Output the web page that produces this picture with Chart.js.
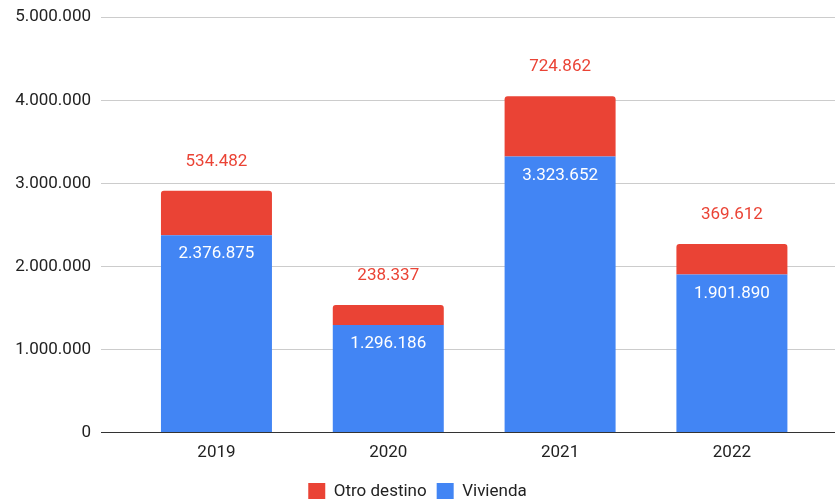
<!DOCTYPE html>
<html>
<head>
<meta charset="utf-8">
<script src="https://cdn.jsdelivr.net/npm/chart.js@4.4.0/dist/chart.umd.min.js"></script>
<style>
  html, body { margin: 0; padding: 0; background: #fff; overflow: hidden; }
  #wrap { width: 835px; height: 506px; margin-top: -3px; }
</style>
</head>
<body>
<div id="wrap"><canvas id="grafico"></canvas></div>
<script>
// datos
const anios = ['2019', '2020', '2021', '2022']
const vivienda = [2376875, 1296186, 3323652, 1901890]
const otroDestino = [534482, 238337, 724862, 369612]
const ticksY = [0, 1000000, 2000000, 3000000, 4000000, 5000000]

const rojo = '#ea4335'
const azul = '#4285f4'

function puntos(n) {
  return String(n).replace(/\B(?=(\d{3})+(?!\d))/g, '.')
}

// etiquetas encima / dentro de las barras
const etiquetas = {
  id: 'etiquetas',
  afterDatasetsDraw(chart) {
    const ctx = chart.ctx
    ctx.save()
    ctx.font = '17px Roboto'
    ctx.textAlign = 'center'
    ctx.textBaseline = 'middle'
    chart.data.datasets.forEach((ds, di) => {
      const meta = chart.getDatasetMeta(di)
      meta.data.forEach((bar, i) => {
        const v = ds.data[i].y
        if (di === 0) {
          ctx.fillStyle = '#ffffff'
          ctx.fillText(puntos(v), bar.x, bar.y + 19)
        } else {
          ctx.fillStyle = rojo
          ctx.fillText(puntos(v), bar.x, bar.y - 29)
        }
      })
    })
    ctx.restore()
  }
}

new Chart(document.querySelector('#grafico'), {
  type: 'bar',
  data: {
    datasets: [{
      label: 'Vivienda',
      data: vivienda.map((v, i) => ({ x: i, y: v })),
      backgroundColor: azul,
      categoryPercentage: 1,
      barPercentage: 0.646
    }, {
      label: 'Otro destino',
      data: otroDestino.map((v, i) => ({ x: i, y: v })),
      backgroundColor: rojo,
      borderRadius: { topLeft: 3, topRight: 3, bottomLeft: 0, bottomRight: 0 },
      borderSkipped: false,
      categoryPercentage: 1,
      barPercentage: 0.646
    }]
  },
  options: {
    responsive: true,
    maintainAspectRatio: false,
    animation: false,
    layout: { padding: { top: 0, right: 0, left: 0, bottom: -7 } },
    scales: {
      x: {
        type: 'linear',
        stacked: true,
        offset: false,
        min: -0.672,
        max: 3.6,
        afterBuildTicks: axis => { axis.ticks = anios.map((a, i) => ({ value: i })) },
        ticks: {
          callback: v => anios[v],
          color: '#222',
          font: { family: 'Roboto', size: 17 },
          padding: 10,
          maxRotation: 0
        },
        grid: { display: false, drawTicks: false },
        border: { display: true, color: '#333', width: 1 }
      },
      y: {
        stacked: true,
        min: 0,
        max: 5000000,
        afterBuildTicks: axis => { axis.ticks = ticksY.map(v => ({ value: v })) },
        afterFit: axis => { axis.width = 101 },
        ticks: {
          callback: v => puntos(v),
          color: '#222',
          font: { family: 'Roboto', size: 17 },
          padding: 10
        },
        grid: {
          color: c => c.tick && c.tick.value === 0 ? '#333' : '#cccccc',
          drawTicks: false
        },
        border: { display: false }
      }
    },
    plugins: {
      legend: {
        position: 'bottom',
        reverse: true,
        labels: {
          boxWidth: 17,
          boxHeight: 17,
          color: '#222',
          font: { family: 'Roboto', size: 17 },
          padding: 10
        }
      },
      tooltip: { enabled: false }
    }
  },
  plugins: [etiquetas]
})
</script>
</body>
</html>
